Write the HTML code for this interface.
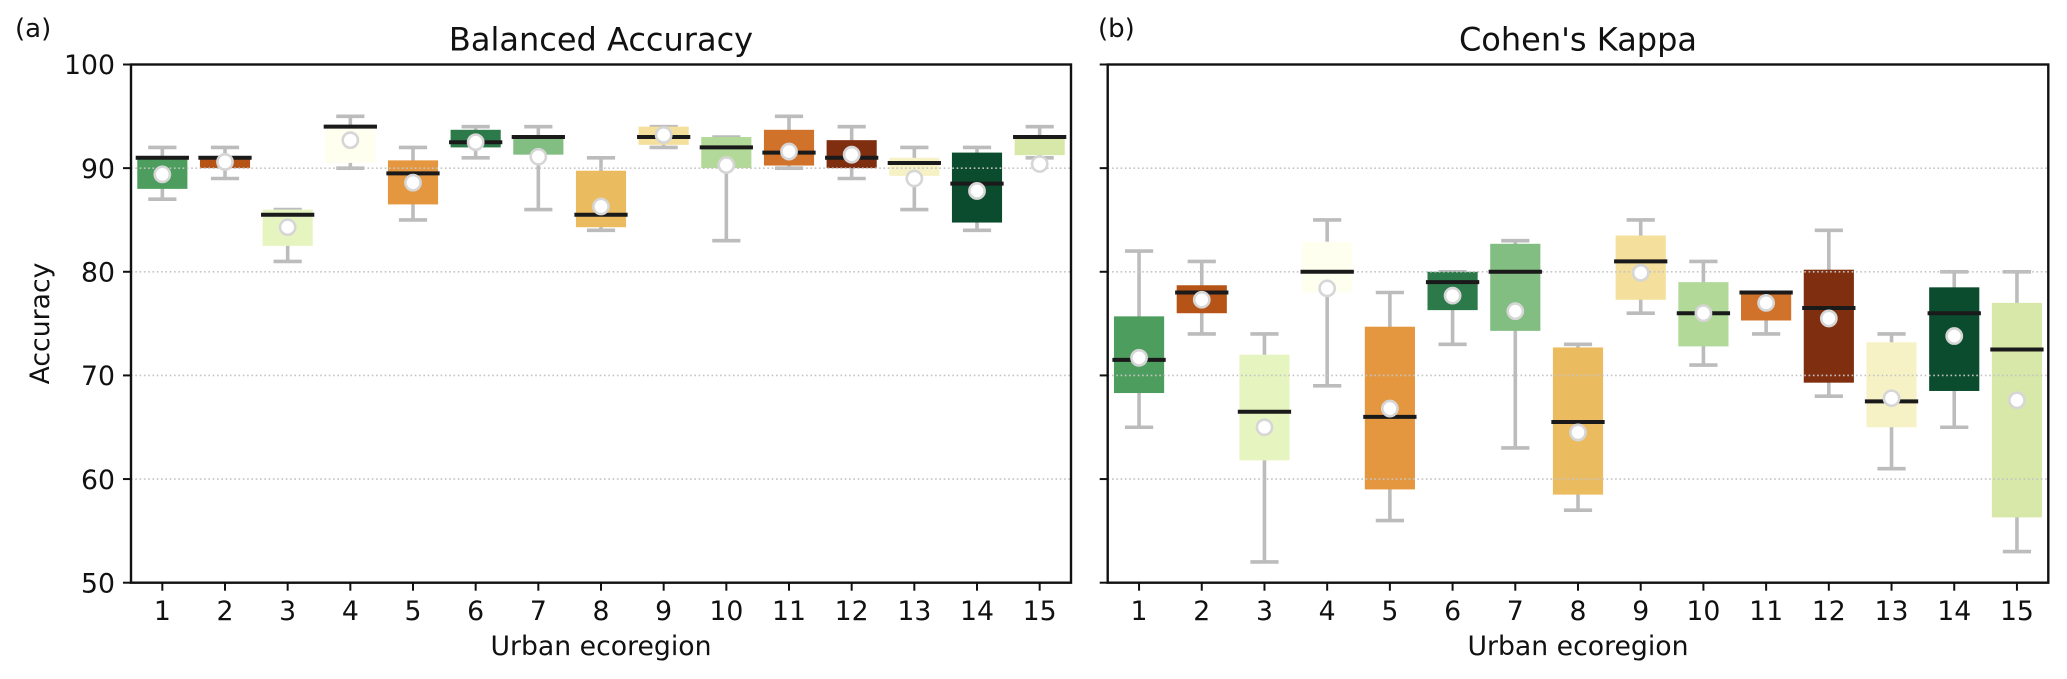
<!DOCTYPE html>
<html>
<head>
<meta charset="utf-8">
<title>Balanced Accuracy and Cohen's Kappa</title>
<style>
html,body{margin:0;padding:0;background:#fff;}
svg{display:block;}
text{font-family:"DejaVu Sans","Liberation Sans",sans-serif;fill:#111;}
</style>
</head>
<body>
<svg id="chart" xmlns="http://www.w3.org/2000/svg" width="2067" height="679" viewBox="0 0 2067 679"></svg>
<script>
const categories = [1,2,3,4,5,6,7,8,9,10,11,12,13,14,15];
const yTicks = [50,60,70,80,90,100];
const gridTicks = [60,70,80,90];
const boxColors = ['#4d9e5e','#b65316','#e6f5c0','#fffff0','#e5973f','#2c7a4a','#82bd82','#ebbb60','#f4df9c','#b3d999','#d0722a','#7f2f10','#f7f2c6','#0c4c2e','#d7e8a8'];

const accuracyWhiskerHigh = [92,92,86,95,92,94,94,91,94,93,95,94,92,92,94];
const accuracyWhiskerLow = [87,89,81,90,85,91,86,84,92,83,90,89,86,84,91];
const accuracyBoxHigh = [91,91,86,94,90.75,93.7,93,89.75,94,93,93.7,92.7,91,91.5,93];
const accuracyBoxLow = [88,90,82.5,90.5,86.5,92,91.3,84.3,92.25,90,90.25,90,89.25,84.75,91.25];
const accuracyMedian = [91,91,85.5,94,89.5,92.5,93,85.5,93,92,91.5,91,90.5,88.5,93];
const accuracyMean = [89.4,90.6,84.3,92.7,88.6,92.5,91.1,86.3,93.2,90.3,91.6,91.3,89,87.8,90.4];

const kappaWhiskerHigh = [82,81,74,85,78,80,83,73,85,81,78,84,74,80,80];
const kappaWhiskerLow = [65,74,52,69,56,73,63,57,76,71,74,68,61,65,53];
const kappaBoxHigh = [75.7,78.7,72,82.9,74.7,80,82.7,72.7,83.5,79,78,80.2,73.2,78.5,77];
const kappaBoxLow = [68.3,76,61.8,78,59,76.3,74.3,58.5,77.3,72.8,75.3,69.3,65,68.5,56.3];
const kappaMedian = [71.5,78,66.5,80,66,79,80,65.5,81,76,78,76.5,67.5,76,72.5];
const kappaMean = [71.7,77.3,65,78.4,66.8,77.7,76.2,64.5,79.9,76,77,75.5,67.8,73.8,67.6];

const svgNS = 'http://www.w3.org/2000/svg';
const root = document.getElementById('chart');

function make(parent, tag, attrs, txt) {
  const el = document.createElementNS(svgNS, tag);
  for (const k in attrs) el.setAttribute(k, attrs[k]);
  if (txt !== undefined) el.textContent = txt;
  parent.appendChild(el);
  return el;
}

const axTop = 64.5, axBottom = 582.7, yMin = 50, yMax = 100, xMin = 0.5, xMax = 15.5;
const boxW = 0.8, medianW = 0.85, capW = 0.45;
const spineColor = '#111', whiskerColor = '#bcbcbc', medianColor = '#1a1a1a';
const labelSize = 26.7, titleSize = 32;

function yScale(v) { return axBottom - (v - yMin) / (yMax - yMin) * (axBottom - axTop); }

function drawPanel(panelName, axLeft, axRight, titleText, letter, letterX, showYLabels, wHigh, wLow, bHigh, bLow, med, mean) {
  const xScale = c => axLeft + (c - xMin) / (xMax - xMin) * (axRight - axLeft);
  const unit = (axRight - axLeft) / (xMax - xMin);

  const g = make(root, 'g', {});
  
  

  // whiskers and caps
  categories.forEach((c, i) => {
    const x = xScale(c);
    const wg = make(g, 'g', {stroke: whiskerColor, 'stroke-width': 3.6});
    
    
    make(wg, 'line', {x1: x, x2: x, y1: yScale(wHigh[i]), y2: yScale(wLow[i])});
    make(wg, 'line', {x1: x - unit*capW/2, x2: x + unit*capW/2, y1: yScale(wHigh[i]), y2: yScale(wHigh[i])});
    make(wg, 'line', {x1: x - unit*capW/2, x2: x + unit*capW/2, y1: yScale(wLow[i]), y2: yScale(wLow[i])});
  });

  // boxes
  categories.forEach((c, i) => {
    const x = xScale(c);
    const r = make(g, 'rect', {x: x - unit*boxW/2, width: unit*boxW, y: yScale(bHigh[i]), height: yScale(bLow[i]) - yScale(bHigh[i]), fill: boxColors[i]});
    
    
  });

  // grid
  gridTicks.forEach(t => {
    const l = make(g, 'line', {x1: axLeft, x2: axRight, y1: yScale(t), y2: yScale(t), stroke: '#c4c4c4', 'stroke-width': 1.6, 'stroke-dasharray': '1.6 2.7'});
    
    
  });

  // medians
  categories.forEach((c, i) => {
    const x = xScale(c);
    const l = make(g, 'line', {x1: x - unit*medianW/2, x2: x + unit*medianW/2, y1: yScale(med[i]), y2: yScale(med[i]), stroke: medianColor, 'stroke-width': 4});
    
    
  });

  // means
  categories.forEach((c, i) => {
    const m = make(g, 'circle', {cx: xScale(c), cy: yScale(mean[i]), r: 7.6, fill: '#fff', stroke: '#d6d6d6', 'stroke-width': 2.6});
    
    
  });

  // spines
  const sp = make(g, 'rect', {x: axLeft, y: axTop, width: axRight - axLeft, height: axBottom - axTop, fill: 'none', stroke: spineColor, 'stroke-width': 2.4});
  
  

  // x ticks
  categories.forEach(c => {
    const x = xScale(c);
    const t = make(g, 'line', {x1: x, x2: x, y1: axBottom, y2: axBottom + 8, stroke: spineColor, 'stroke-width': 2});
    
    
    const lb = make(g, 'text', {x: x, y: 620, 'font-size': labelSize, 'text-anchor': 'middle'}, String(c));
    
    
  });

  // y ticks
  yTicks.forEach(v => {
    const y = yScale(v);
    const t = make(g, 'line', {x1: axLeft - 8, x2: axLeft, y1: y, y2: y, stroke: spineColor, 'stroke-width': 2});
    
    
    if (showYLabels) {
      const lb = make(g, 'text', {x: axLeft - 16, y: y + 9.7, 'font-size': labelSize, 'text-anchor': 'end'}, String(v));
      
      
    }
  });

  const cx = (axLeft + axRight) / 2;
  const tt = make(g, 'text', {x: cx, y: 50.7, 'font-size': titleSize, 'text-anchor': 'middle'}, titleText);
  
  

  const xl = make(g, 'text', {x: cx, y: 655, 'font-size': labelSize, 'text-anchor': 'middle'}, 'Urban ecoregion');
  
  

  const pl = make(g, 'text', {x: letterX, y: 37, 'font-size': 26}, letter);
  
  

  if (showYLabels) {
    const yl = make(g, 'text', {x: 0, y: 0, 'font-size': labelSize, 'text-anchor': 'middle', transform: 'translate(49,323.5) rotate(-90)'}, 'Accuracy');
    
    
  }
}

drawPanel('balanced-accuracy', 131, 1071, 'Balanced Accuracy', '(a)', 15, true, accuracyWhiskerHigh, accuracyWhiskerLow, accuracyBoxHigh, accuracyBoxLow, accuracyMedian, accuracyMean);
drawPanel('cohens-kappa', 1107.7, 2048.3, "Cohen's Kappa", '(b)', 1098, false, kappaWhiskerHigh, kappaWhiskerLow, kappaBoxHigh, kappaBoxLow, kappaMedian, kappaMean);
</script>
</body>
</html>
